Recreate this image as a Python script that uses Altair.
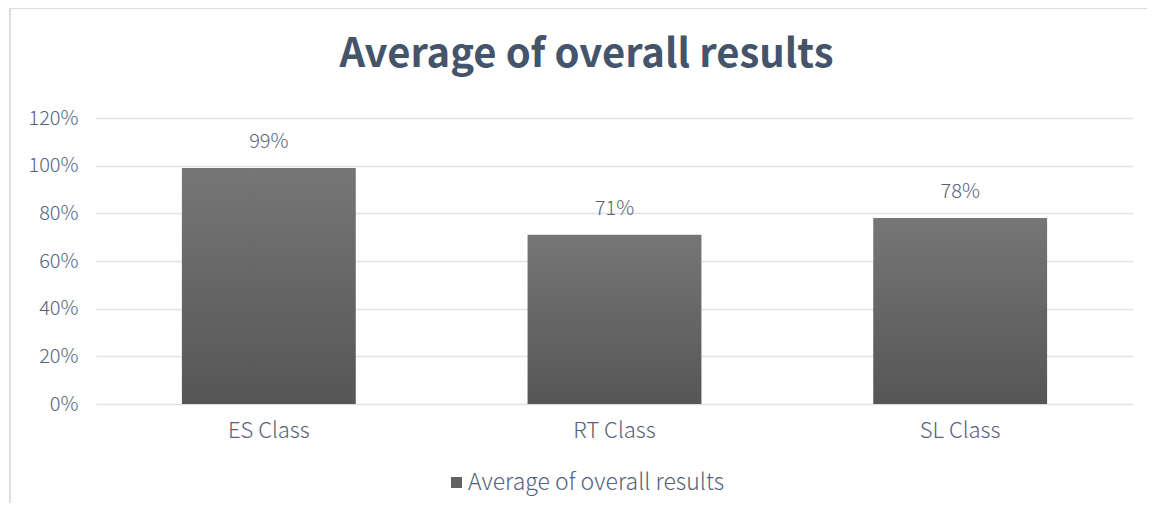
import altair as alt
import pandas as pd

categories = ["ES Class", "RT Class", "SL Class"]
values = [0.99, 0.71, 0.78]
series_name = "Average of overall results"
y_ticks = [0, 0.2, 0.4, 0.6, 0.8, 1.0, 1.2]

df = pd.DataFrame({"cat": categories, "val": values, "series": [series_name] * 3})

FONT = "Noto Sans CJK SC"
TXT = "#56627A"
TITLE_C = "#44546A"

grad = alt.Gradient(
    gradient="linear",
    stops=[alt.GradientStop(color="#767676", offset=0), alt.GradientStop(color="#565656", offset=1)],
    x1=0, x2=0, y1=0, y2=1,
)

x_enc = alt.X("cat:N", sort=categories, title=None,
              scale=alt.Scale(paddingInner=0.497, paddingOuter=0.2485),
              axis=alt.Axis(labelAngle=0, labelFontSize=22, labelColor=TXT, labelFont=FONT,
                            labelFontWeight=300, ticks=False, domain=False, labelPadding=16))
y_enc = alt.Y("val:Q", title=None,
              scale=alt.Scale(domain=[0, 1.2], nice=False),
              axis=alt.Axis(values=y_ticks, format=".0%", labelFontSize=20, labelColor=TXT,
                            labelFont=FONT, labelFontWeight=300, ticks=False, domain=False,
                            labelPadding=18, gridColor="#DEE2E8", gridWidth=1.5))

base = alt.Chart(df)

frame = base.mark_rect(filled=False, stroke="#D9DDE3", strokeWidth=1.5, fill=None).encode(
    x=alt.value(-86), x2=alt.value(1100), y=alt.value(-110), y2=alt.value(420)
)

bars = base.mark_bar(color=grad).encode(x=x_enc, y=y_enc)

legend_layer = base.mark_bar(opacity=0).encode(
    x=x_enc, y=y_enc,
    color=alt.Color("series:N", scale=alt.Scale(range=["#626262"]),
                    legend=alt.Legend(title=None, orient="none", legendX=349, legendY=353,
                                      symbolType="square", symbolSize=121, symbolOpacity=1,
                                      symbolStrokeWidth=0, labelLimit=0,
                                      labelFontSize=23, labelColor=TXT, labelFont=FONT,
                                      labelFontWeight=300, labelOffset=0))
)

labels = base.mark_text(baseline="bottom", dy=-16, fontSize=20, color=TXT, font=FONT,
                        fontWeight=300).encode(
    x=alt.X("cat:N", sort=categories), y="val:Q", text=alt.Text("val:Q", format=".0%")
)

chart = alt.layer(frame, bars, legend_layer, labels).properties(
    width=1037, height=286,
    autosize=alt.AutoSizeParams(type="none"),
    padding={"left": 88, "top": 110, "right": 14, "bottom": 99},
    title=alt.TitleParams(series_name, fontSize=40, font=FONT, fontWeight="bold",
                          color=TITLE_C, anchor="middle", frame="group", dx=-28, dy=108,
                          offset=0, baseline="bottom"),
).configure_view(stroke=None)

chart.save("out.html", embed_options={"renderer": "svg", "actions": False})
